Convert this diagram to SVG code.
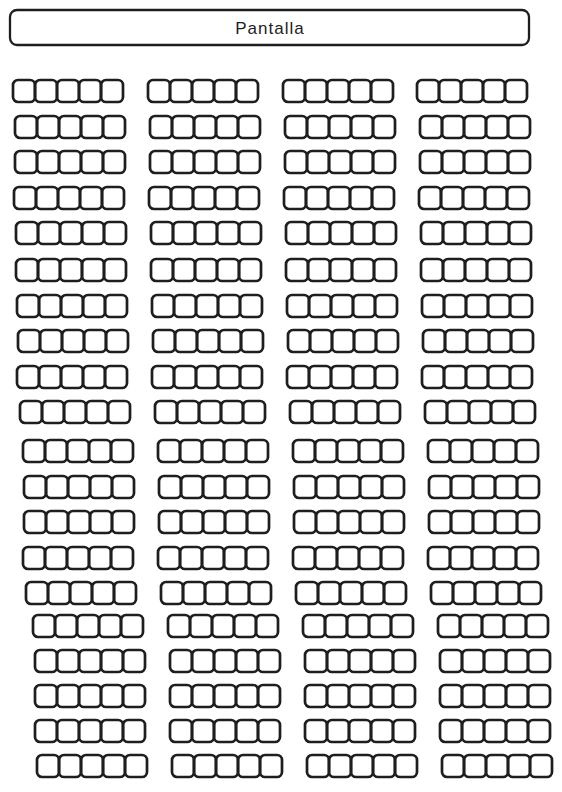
<svg xmlns="http://www.w3.org/2000/svg" width="562" height="792" viewBox="0 0 562 792">
<style>
.seat{fill:none;stroke:#1e1e1e;stroke-width:2.7;stroke-linejoin:round}
.screen{fill:#fff;stroke:#1e1e1e;stroke-width:2.3}
.lbl{font-family:"Liberation Sans",Arial,sans-serif;font-size:17px;fill:#1e1e1e;text-anchor:middle;letter-spacing:1px}
</style>
<defs>
<g id="blk">
<rect class="seat" x="0" y="0" width="22" height="22" rx="5"/>
<rect class="seat" x="22" y="0" width="22" height="22" rx="5"/>
<rect class="seat" x="44" y="0" width="22" height="22" rx="5"/>
<rect class="seat" x="66" y="0" width="22" height="22" rx="5"/>
<rect class="seat" x="88" y="0" width="22" height="22" rx="5"/>
</g>
</defs>
<rect width="562" height="792" fill="#fff"/>
<g id="pantalla">
<rect class="screen" x="10" y="10" width="519" height="35" rx="7"/>
<text class="lbl" x="270" y="34">Pantalla</text>
</g>
<g id="butacas">
<g id="f1b1"><use href="#blk" x="13" y="80"/></g><g id="f1b2"><use href="#blk" x="148" y="80"/></g><g id="f1b3"><use href="#blk" x="283" y="80"/></g><g id="f1b4"><use href="#blk" x="417" y="80"/></g>
<g id="f2b1"><use href="#blk" x="15" y="116"/></g><g id="f2b2"><use href="#blk" x="150" y="116"/></g><g id="f2b3"><use href="#blk" x="285" y="116"/></g><g id="f2b4"><use href="#blk" x="420" y="116"/></g>
<g id="f3b1"><use href="#blk" x="15" y="151"/></g><g id="f3b2"><use href="#blk" x="150" y="151"/></g><g id="f3b3"><use href="#blk" x="285" y="151"/></g><g id="f3b4"><use href="#blk" x="420" y="151"/></g>
<g id="f4b1"><use href="#blk" x="14" y="187"/></g><g id="f4b2"><use href="#blk" x="149" y="187"/></g><g id="f4b3"><use href="#blk" x="284" y="187"/></g><g id="f4b4"><use href="#blk" x="419" y="187"/></g>
<g id="f5b1"><use href="#blk" x="16" y="222"/></g><g id="f5b2"><use href="#blk" x="151" y="222"/></g><g id="f5b3"><use href="#blk" x="286" y="222"/></g><g id="f5b4"><use href="#blk" x="421" y="222"/></g>
<g id="f6b1"><use href="#blk" x="16" y="259"/></g><g id="f6b2"><use href="#blk" x="151" y="259"/></g><g id="f6b3"><use href="#blk" x="286" y="259"/></g><g id="f6b4"><use href="#blk" x="421" y="259"/></g>
<g id="f7b1"><use href="#blk" x="17" y="295"/></g><g id="f7b2"><use href="#blk" x="152" y="295"/></g><g id="f7b3"><use href="#blk" x="287" y="295"/></g><g id="f7b4"><use href="#blk" x="422" y="295"/></g>
<g id="f8b1"><use href="#blk" x="18" y="330"/></g><g id="f8b2"><use href="#blk" x="153" y="330"/></g><g id="f8b3"><use href="#blk" x="288" y="330"/></g><g id="f8b4"><use href="#blk" x="423" y="330"/></g>
<g id="f9b1"><use href="#blk" x="17" y="366"/></g><g id="f9b2"><use href="#blk" x="152" y="366"/></g><g id="f9b3"><use href="#blk" x="287" y="366"/></g><g id="f9b4"><use href="#blk" x="422" y="366"/></g>
<g id="f10b1"><use href="#blk" x="20" y="401"/></g><g id="f10b2"><use href="#blk" x="155" y="401"/></g><g id="f10b3"><use href="#blk" x="290" y="401"/></g><g id="f10b4"><use href="#blk" x="425" y="401"/></g>
<g id="f11b1"><use href="#blk" x="23" y="440"/></g><g id="f11b2"><use href="#blk" x="158" y="440"/></g><g id="f11b3"><use href="#blk" x="293" y="440"/></g><g id="f11b4"><use href="#blk" x="428" y="440"/></g>
<g id="f12b1"><use href="#blk" x="24" y="476"/></g><g id="f12b2"><use href="#blk" x="159" y="476"/></g><g id="f12b3"><use href="#blk" x="294" y="476"/></g><g id="f12b4"><use href="#blk" x="429" y="476"/></g>
<g id="f13b1"><use href="#blk" x="24" y="511"/></g><g id="f13b2"><use href="#blk" x="159" y="511"/></g><g id="f13b3"><use href="#blk" x="294" y="511"/></g><g id="f13b4"><use href="#blk" x="429" y="511"/></g>
<g id="f14b1"><use href="#blk" x="23" y="547"/></g><g id="f14b2"><use href="#blk" x="158" y="547"/></g><g id="f14b3"><use href="#blk" x="293" y="547"/></g><g id="f14b4"><use href="#blk" x="428" y="547"/></g>
<g id="f15b1"><use href="#blk" x="26" y="582"/></g><g id="f15b2"><use href="#blk" x="161" y="582"/></g><g id="f15b3"><use href="#blk" x="296" y="582"/></g><g id="f15b4"><use href="#blk" x="431" y="582"/></g>
<g id="f16b1"><use href="#blk" x="33" y="615"/></g><g id="f16b2"><use href="#blk" x="168" y="615"/></g><g id="f16b3"><use href="#blk" x="303" y="615"/></g><g id="f16b4"><use href="#blk" x="438" y="615"/></g>
<g id="f17b1"><use href="#blk" x="35" y="650"/></g><g id="f17b2"><use href="#blk" x="170" y="650"/></g><g id="f17b3"><use href="#blk" x="305" y="650"/></g><g id="f17b4"><use href="#blk" x="440" y="650"/></g>
<g id="f18b1"><use href="#blk" x="35" y="685"/></g><g id="f18b2"><use href="#blk" x="170" y="685"/></g><g id="f18b3"><use href="#blk" x="305" y="685"/></g><g id="f18b4"><use href="#blk" x="440" y="685"/></g>
<g id="f19b1"><use href="#blk" x="35" y="720"/></g><g id="f19b2"><use href="#blk" x="170" y="720"/></g><g id="f19b3"><use href="#blk" x="305" y="720"/></g><g id="f19b4"><use href="#blk" x="440" y="720"/></g>
<g id="f20b1"><use href="#blk" x="37" y="755"/></g><g id="f20b2"><use href="#blk" x="172" y="755"/></g><g id="f20b3"><use href="#blk" x="307" y="755"/></g><g id="f20b4"><use href="#blk" x="442" y="755"/></g>
</g>
<g id="conectores"/>
</svg>
